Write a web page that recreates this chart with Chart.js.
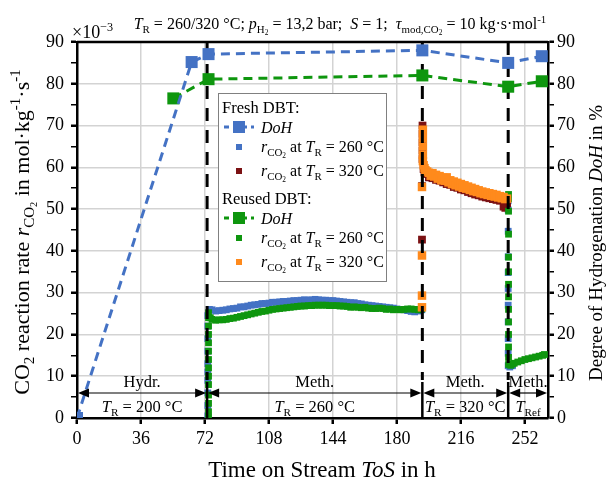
<!DOCTYPE html>
<html>
<head>
<meta charset="utf-8">
<script src="https://cdn.jsdelivr.net/npm/chart.js@4.4.1/dist/chart.umd.min.js"></script>
<style>
  body { margin: 0; background: #fff; }
  #wrap { width: 610px; height: 484px; }
</style>
</head>
<body>
<div id="wrap"><canvas id="tosChart" width="610" height="484"></canvas></div>
<script>
// Degree of hydrogenation (right axis, %)
const freshDoHTime = [0, 64.5, 74, 194.3, 242.6, 261.5];
const freshDoH = [0, 85.2, 87.1, 88.0, 85.0, 86.6];
const reusedDoHTime = [54.2, 74, 194.3, 242.6, 261.5];
const reusedDoH = [76.5, 81.1, 82.0, 79.3, 80.6];

// CO2 reaction rate, fresh DBT, 260 °C (x 10^-3 mol/kg/s)
const fresh260Time = [73.6, 73.6, 73.6, 73.6, 73.6, 73.6, 73.6, 73.6, 73.6, 73.6,
  74.5, 76, 78, 80, 82, 84, 86, 88, 90, 92, 94, 96, 98, 100, 102, 104, 106, 108, 110,
  112, 114, 116, 118, 120, 122, 124, 126, 128, 130, 132, 134, 136, 138, 140, 142, 144,
  146, 148, 150, 152, 154, 156, 158, 160, 162, 164, 166, 168, 170, 172, 174, 176, 178,
  180, 182, 184, 186, 188, 190, 192, 194,
  242.6, 242.6, 242.6, 242.6, 242.6, 242.6, 242.6, 242.6, 242.6, 242.6, 242.6, 243.5, 245];
const fresh260 = [0.5, 3, 6, 9, 11, 13, 16, 19, 22, 24.5,
  26.0, 25.9, 25.6, 25.7, 25.8, 25.9, 26.1, 26.2, 26.3, 26.6, 26.6, 26.8, 27.0, 27.1, 27.2,
  27.4, 27.4, 27.5, 27.7, 27.7, 27.8, 27.9, 27.9, 28.0, 28.1, 28.1, 28.2, 28.3, 28.2, 28.3,
  28.4, 28.3, 28.2, 28.2, 28.1, 28.1, 28.0, 27.9, 27.8, 27.7, 27.6, 27.6, 27.4, 27.3, 27.1,
  27.0, 26.9, 26.8, 26.7, 26.6, 26.5, 26.4, 26.3, 26.1, 26.0, 25.9, 25.7, 25.5, 25.4, 25.6, 25.9,
  52.0, 49.8, 44.7, 38.6, 34.8, 31.0, 27.0, 23.0, 19.0, 15.5, 12.5, 12.2, 12.5];

// CO2 reaction rate, fresh DBT, 320 °C
const fresh320Time = [194.1, 194.1, 194.4, 194.4, 194.4, 194.4, 194.4, 195, 195.5, 196, 198,
  200, 202, 204, 206, 208, 210, 212, 214, 216, 218, 220, 222, 224, 226, 228, 230, 232,
  234, 236, 238, 240, 241, 242];
const fresh320 = [42.7, 55.5, 70, 68, 66, 64, 62, 59.6, 58.8, 58.4, 57.6,
  57.4, 57.0, 56.8, 56.4, 56.0, 55.8, 55.3, 55.1, 54.7, 54.5, 54.1, 53.8, 53.5, 53.3, 53.0,
  52.8, 52.6, 52.4, 52.2, 52.0, 50.6, 50.3, 51.4];

// CO2 reaction rate, reused DBT, 260 °C
const reused260Time = [74, 74, 74, 74, 74, 74, 74, 74, 74, 74, 74, 74, 74, 74,
  75, 76, 78, 80, 82, 84, 86, 88, 90, 92, 94, 96, 98, 100, 102, 104, 106, 108, 110, 112,
  114, 116, 118, 120, 122, 124, 126, 128, 130, 132, 134, 136, 138, 140, 142, 144, 146,
  148, 150, 152, 154, 156, 158, 160, 162, 164, 166, 168, 170, 172, 174, 176, 178, 180,
  182, 184, 186, 188, 190, 192, 194,
  242.8, 242.8, 242.8, 242.8, 242.8, 242.8, 242.8, 242.8, 242.8, 242.8, 242.8, 242.8,
  242.8, 242.8, 244, 245, 246, 248, 250, 252, 254, 256, 258, 260, 262, 263];
const reused260 = [0, 1.5, 3.5, 5.5, 8, 10, 12, 14, 16, 18, 20, 22, 24, 25.2,
  24.0, 23.6, 23.4, 23.5, 23.5, 23.6, 23.8, 23.9, 24.1, 24.3, 24.5, 24.7, 24.9, 25.1, 25.3,
  25.5, 25.6, 25.8, 26.0, 26.1, 26.2, 26.3, 26.4, 26.5, 26.6, 26.7, 26.8, 26.8, 26.9, 26.9,
  27.0, 27.0, 27.0, 27.0, 26.9, 26.9, 26.9, 26.8, 26.8, 26.7, 26.5, 26.6, 26.5, 26.4, 26.5,
  26.3, 26.2, 26.2, 26.3, 26.2, 26.0, 26.1, 25.9, 26.0, 25.9, 26.0, 26.1, 26.1, 26.0, 25.9, 26.1,
  53.5, 52.5, 49.5, 44.0, 38.5, 35.0, 32.0, 29.0, 26.0, 23.0, 20.0, 17.0, 14.5, 12.8,
  12.6, 12.9, 13.1, 13.4, 13.7, 14.0, 14.2, 14.4, 14.6, 14.8, 15.0, 15.2];

// CO2 reaction rate, reused DBT, 320 °C
const reused320Time = [194.1, 194.1, 194.1, 194.1, 194.6, 194.6, 194.6, 194.6, 194.6, 195,
  195.5, 196, 197, 198, 199, 200, 201, 202, 203, 204, 205, 206, 207, 208, 209, 210, 211,
  212, 213, 214, 215, 216, 217, 218, 219, 220, 221, 222, 223, 224, 225, 226, 227, 228,
  229, 230, 231, 232, 233, 234, 235, 236, 237, 238, 239, 240, 241, 242];
const reused320 = [26.5, 29.3, 38.9, 55.3, 69, 67, 65, 63, 61.5, 60.5,
  59.8, 59.3, 59.0, 58.7, 58.0, 58.6, 57.8, 58.2, 57.3, 57.9, 56.9, 57.5, 56.8, 57.6, 56.4,
  56.9, 56.0, 56.6, 55.7, 56.3, 55.4, 56.0, 55.1, 55.7, 54.9, 55.4, 54.6, 55.1, 54.3, 54.8,
  54.1, 54.5, 53.8, 54.2, 53.6, 54.0, 53.4, 53.8, 53.2, 53.6, 53.0, 53.4, 52.8, 53.1, 52.6,
  52.9, 52.4, 52.5];

// operating phases along the time axis
const phaseBounds = [0, 73.2, 194.3, 242.6, 265];
const phaseTop = ['Hydr.', 'Meth.', 'Meth.', 'Meth.'];
const phaseTemps = ['200 °C', '260 °C', '320 °C', null];
const dividers = [73.2, 194.3, 242.6];
const timeTicks = [0, 36, 72, 108, 144, 180, 216, 252];

const BLUE = '#4472C4', DARKRED = '#7B1113', GREEN = '#0E960E', ORANGE = '#FF8A1C';
const SERIF = '"Liberation Serif", "Times New Roman", serif';

const pts = (xs, ys) => xs.map((x, i) => ({ x: x, y: ys[i] }));

// small helpers for text with italics / sub- and superscripts
const n = t => ({ t });
const it = t => ({ t, i: true });
const sb = (t, i) => ({ t, l: 1, i });
const ss = t => ({ t, l: 2 });
const sp = t => ({ t, l: -1 });

function drawRich(ctx, parts, x, y, size, align, rot) {
  const fontOf = p => (p.i ? 'italic ' : '') +
    (size * Math.pow(0.68, Math.abs(p.l || 0))).toFixed(1) + 'px ' + SERIF;
  let total = 0;
  parts.forEach(p => { ctx.font = fontOf(p); p.w = ctx.measureText(p.t).width; total += p.w; });
  ctx.save();
  ctx.translate(x, y);
  ctx.rotate(rot || 0);
  ctx.fillStyle = '#000';
  ctx.textAlign = 'left';
  ctx.textBaseline = 'alphabetic';
  let cx = align === 'center' ? -total / 2 : align === 'right' ? -total : 0;
  parts.forEach(p => {
    ctx.font = fontOf(p);
    const l = p.l || 0;
    const dy = l === 1 ? size * 0.24 : l === 2 ? size * 0.36 : l === -1 ? -size * 0.4 : 0;
    ctx.fillText(p.t, cx, dy);
    cx += p.w;
  });
  ctx.restore();
}

function arrowHead(ctx, x, y, dir) {
  ctx.beginPath();
  ctx.moveTo(x, y);
  ctx.lineTo(x - dir * 11, y - 4.5);
  ctx.lineTo(x - dir * 11, y + 4.5);
  ctx.closePath();
  ctx.fill();
}

const decor = {
  id: 'decor',
  afterDatasetDraw(chart, args) {
    // dashed phase dividers sit above the rate points but below the DoH markers
    if (args.index !== 5) return;
    const { ctx, chartArea: a, scales: { x } } = chart;
    ctx.save();
    ctx.strokeStyle = '#000';
    ctx.lineWidth = 3;
    ctx.setLineDash([13, 9]);
    dividers.forEach(d => {
      const px = x.getPixelForValue(d);
      ctx.beginPath();
      ctx.moveTo(px, a.top);
      ctx.lineTo(px, a.bottom - 38);
      ctx.stroke();
    });
    ctx.setLineDash([]);
    ctx.lineWidth = 2.5;
    dividers.forEach(d => {
      const px = x.getPixelForValue(d);
      ctx.beginPath();
      ctx.moveTo(px, a.bottom - 36);
      ctx.lineTo(px, a.bottom);
      ctx.stroke();
    });
    ctx.restore();
  },
  afterDraw(chart) {
    const { ctx, chartArea: a, scales: { x } } = chart;
    ctx.save();
    // top frame line
    ctx.strokeStyle = '#000';
    ctx.lineWidth = 2.5;
    ctx.beginPath();
    ctx.moveTo(a.left, a.top);
    ctx.lineTo(a.right, a.top);
    ctx.stroke();

    // phase arrows along the bottom
    const ay = a.bottom - 25;
    ctx.lineWidth = 1.2;
    ctx.fillStyle = '#000';
    for (let i = 0; i < phaseBounds.length - 1; i++) {
      const x0 = x.getPixelForValue(phaseBounds[i]) + 1;
      const x1 = x.getPixelForValue(phaseBounds[i + 1]) - 1;
      ctx.beginPath();
      ctx.moveTo(x0 + 4, ay);
      ctx.lineTo(x1 - 4, ay);
      ctx.stroke();
      arrowHead(ctx, x0, ay, -1);
      arrowHead(ctx, x1, ay, 1);
      const cx = (x0 + x1) / 2;
      drawRich(ctx, [n(phaseTop[i])], cx, ay - 6, 16.5, 'center');
      const below = phaseTemps[i] ? [it('T'), sb('R'), n(' = ' + phaseTemps[i])] : [it('T'), sb('Ref')];
      drawRich(ctx, below, cx, ay + 19, 16.5, 'center');
    }

    // titles
    drawRich(ctx, [it('T'), sb('R'), n(' = 260/320 °C; '), it('p'), sb('H'), ss('2'),
      n(' = 13,2 bar;  '), it('S'), n(' = 1;  '), it('τ'), sb('mod,CO'), ss('2'),
      n(' = 10 kg·s·mol'), sp('-1')], 340, 29, 16, 'center');
    drawRich(ctx, [n('×10'), sp('−3')], 72, 38, 18, 'left');
    drawRich(ctx, [n('Time on Stream '), it('ToS'), n(' in h')], 322, 477, 23, 'center');
    drawRich(ctx, [n('CO'), sb('2'), n(' reaction rate '), it('r'), sb('CO'), ss('2'),
      n(' in mol·kg'), sp('-1'), n('·s'), sp('-1')], 29, 232, 22, 'center', -Math.PI / 2);
    drawRich(ctx, [n('Degree of Hydrogenation '), it('DoH'), n(' in %')], 602, 243, 19,
      'center', -Math.PI / 2);

    // legend
    const lx = 218, ly = 93;
    ctx.fillStyle = '#fff';
    ctx.fillRect(lx, ly, 168, 188);
    ctx.strokeStyle = '#808080';
    ctx.lineWidth = 1;
    ctx.strokeRect(lx + 0.5, ly + 0.5, 168, 188);
    const groups = [['Fresh DBT:', BLUE, BLUE, DARKRED], ['Reused DBT:', GREEN, GREEN, ORANGE]];
    groups.forEach((g, k) => {
      const top = ly + 20 + k * 91;
      drawRich(ctx, [n(g[0])], lx + 4, top, 16.5, 'left');
      const mx = lx + 21;
      const rowY = [top + 14, top + 34, top + 58];
      ctx.strokeStyle = g[1];
      ctx.lineWidth = 3;
      ctx.setLineDash([5, 4]);
      ctx.beginPath();
      ctx.moveTo(mx - 15, rowY[0]);
      ctx.lineTo(mx + 15, rowY[0]);
      ctx.stroke();
      ctx.setLineDash([]);
      ctx.fillStyle = g[1];
      ctx.fillRect(mx - 6, rowY[0] - 6, 12, 12);
      ctx.fillStyle = g[2];
      ctx.fillRect(mx - 3, rowY[1] - 3, 6, 6);
      ctx.fillStyle = g[3];
      ctx.fillRect(mx - 3, rowY[2] - 3, 6, 6);
      drawRich(ctx, [it('DoH')], lx + 43, rowY[0] + 6, 16, 'left');
      drawRich(ctx, [it('r'), sb('CO'), ss('2'), n(' at '), it('T'), sb('R'), n(' = 260 °C')],
        lx + 43, rowY[1] + 5, 16, 'left');
      drawRich(ctx, [it('r'), sb('CO'), ss('2'), n(' at '), it('T'), sb('R'), n(' = 320 °C')],
        lx + 43, rowY[2] + 5, 16, 'left');
    });
    ctx.restore();
  }
};

const rateSet = (label, xs, ys, color, order, r) => ({
  label, data: pts(xs, ys), yAxisID: 'y', order,
  backgroundColor: color, borderColor: color,
  pointStyle: 'rect', pointRadius: r, pointBorderWidth: 0, showLine: false
});
const doHSet = (label, xs, ys, color) => ({
  label, data: pts(xs, ys), yAxisID: 'y2', order: 0,
  showLine: true, borderColor: color, backgroundColor: color, borderWidth: 3,
  borderDash: [9, 6], pointStyle: 'rect', pointRadius: 8.5, pointBorderWidth: 0
});

const tickFont = { family: SERIF, size: 18 };
const yScale = (pos, width, grid) => ({
  position: pos, min: 0, max: 90,
  ticks: {
    stepSize: 5, autoSkip: false, color: '#000', font: tickFont, padding: pos === 'left' ? 7 : 3,
    callback: v => (v % 10 === 0 ? v : '')
  },
  grid: {
    drawOnChartArea: grid,
    color: c => (c.tick && c.tick.value % 10 === 0 ? '#d3d3d3' : 'rgba(0,0,0,0)'),
    lineWidth: 1.5, tickColor: '#000', tickLength: 6,
    tickWidth: c => (c.tick && c.tick.value % 10 === 0 ? 2.5 : 1.5)
  },
  border: { color: '#000', width: 2.5 },
  afterFit: s => { s.width = width; }
});

new Chart(document.getElementById('tosChart'), {
  type: 'scatter',
  data: {
    datasets: [
      doHSet('Fresh DBT: DoH', freshDoHTime, freshDoH, BLUE),
      rateSet('Fresh DBT: r at 260 °C', fresh260Time, fresh260, BLUE, 4, 4.8),
      rateSet('Fresh DBT: r at 320 °C', fresh320Time, fresh320, DARKRED, 3, 5.5),
      doHSet('Reused DBT: DoH', reusedDoHTime, reusedDoH, GREEN),
      rateSet('Reused DBT: r at 260 °C', reused260Time, reused260, GREEN, 2, 4.8),
      rateSet('Reused DBT: r at 320 °C', reused320Time, reused320, ORANGE, 1, 6)
    ]
  },
  options: {
    responsive: false,
    animation: false,
    layout: { padding: { top: 42, left: 0, right: 0, bottom: 0 } },
    plugins: { legend: { display: false }, tooltip: { enabled: false } },
    scales: {
      x: {
        type: 'linear', min: 0, max: 265,
        afterBuildTicks: s => { s.ticks = timeTicks.map(v => ({ value: v })); },
        ticks: { autoSkip: false, maxRotation: 0, color: '#000', font: tickFont, padding: 4 },
        grid: { color: '#d3d3d3', lineWidth: 1.5, tickColor: '#000', tickLength: 6, tickWidth: 2.5 },
        border: { color: '#000', width: 2.5 },
        afterFit: s => { s.height = 66; }
      },
      y: yScale('left', 77, true),
      y2: yScale('right', 62, false)
    }
  },
  plugins: [decor]
});
</script>
</body>
</html>
